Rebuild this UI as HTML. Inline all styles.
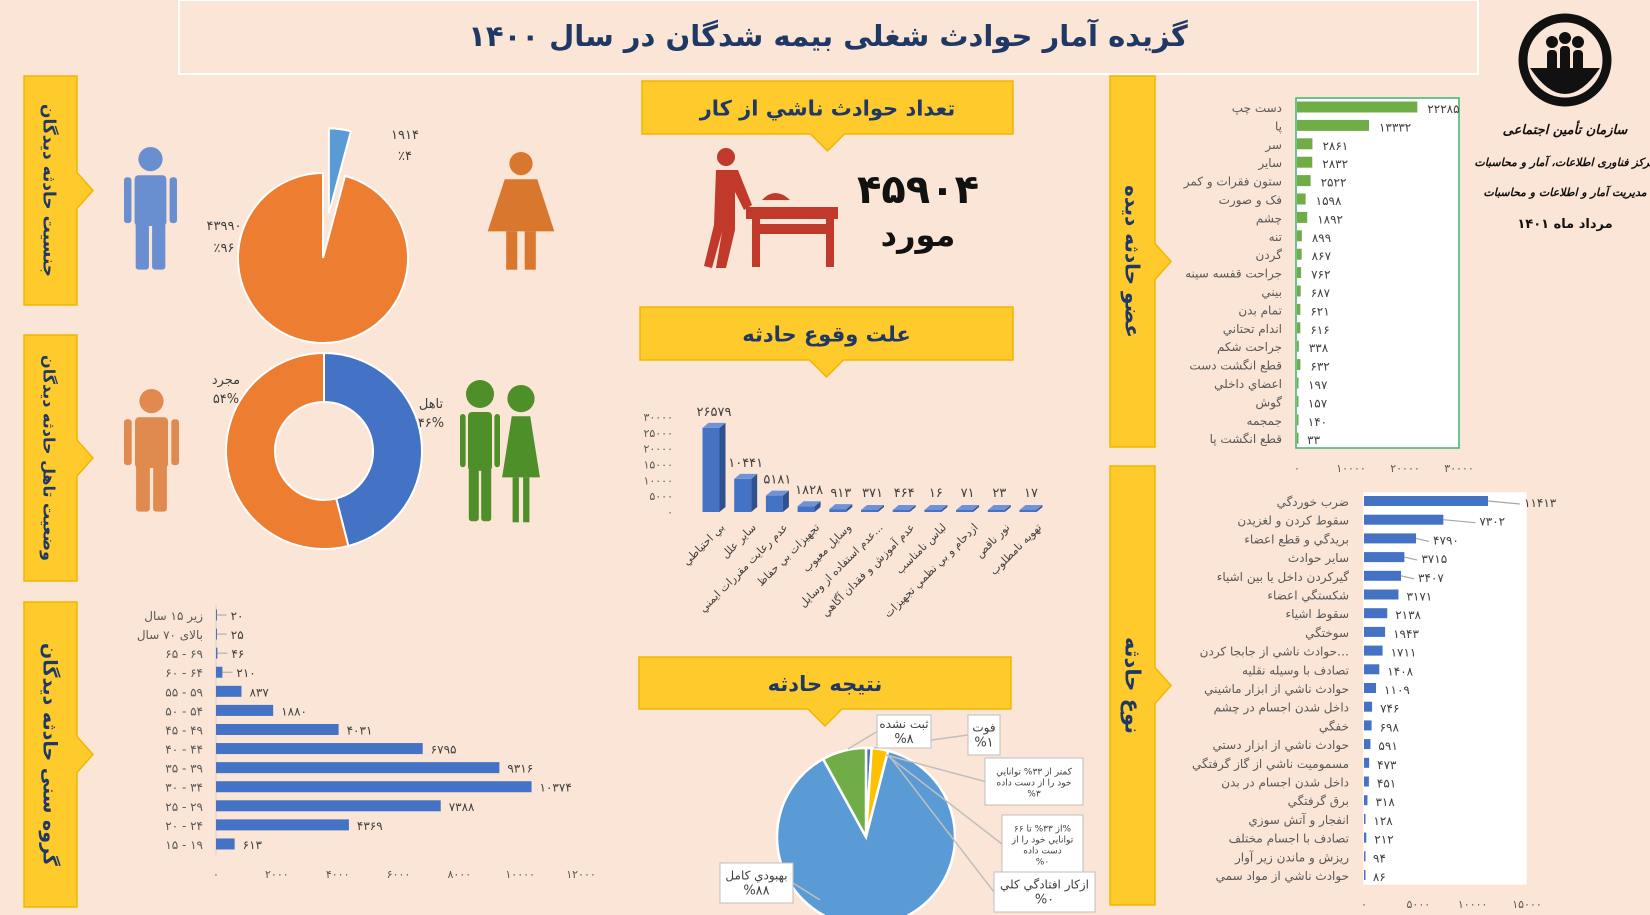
<!DOCTYPE html>
<html><head><meta charset="utf-8">
<style>
html,body{margin:0;padding:0;background:#fbe5d6;}
svg{display:block;font-family:"DejaVu Sans","Liberation Sans",sans-serif;}
</style></head>
<body>
<svg id="root" width="1650" height="915" viewBox="0 0 1650 915" xmlns="http://www.w3.org/2000/svg">
<rect x="0" y="0" width="1650" height="915" fill="#fbe5d6"/>
<rect x="179" y="0" width="1299" height="74" fill="none" stroke="#ffffff" stroke-width="2"/>
<text x="828" y="46" text-anchor="middle" font-size="29" font-weight="bold" fill="#1f3864">گزیده آمار حوادث شغلی بیمه شدگان در سال ۱۴۰۰</text>

<g>
<circle cx="1565" cy="60" r="42" fill="none" stroke="#111" stroke-width="9"/>
<path d="M1530 68 Q1565 120 1600 68 Z" fill="#111"/>
<circle cx="1552" cy="42" r="6" fill="#111"/><circle cx="1565" cy="38" r="6" fill="#111"/><circle cx="1578" cy="42" r="6" fill="#111"/>
<rect x="1547" y="50" width="10" height="26" rx="4" fill="#111"/><rect x="1560" y="46" width="10" height="30" rx="4" fill="#111"/><rect x="1573" y="50" width="10" height="26" rx="4" fill="#111"/>
</g>
<text x="1565" y="134" text-anchor="middle" font-size="13" font-weight="bold" font-style="italic" fill="#111">سازمان تأمین اجتماعی</text>
<text x="1565" y="166" text-anchor="middle" font-size="11" font-weight="bold" font-style="italic" fill="#111">مرکز فناوری اطلاعات، آمار و محاسبات</text>
<text x="1565" y="196" text-anchor="middle" font-size="11" font-weight="bold" font-style="italic" fill="#111">مدیریت آمار و اطلاعات و محاسبات</text>
<text x="1565" y="228" text-anchor="middle" font-size="13" font-weight="bold" fill="#111">مرداد ماه ۱۴۰۱</text>

<g id="tabs"></g>
<g id="headers"></g>

<g fill="#c0392b">
<circle cx="726" cy="157" r="9"/>
<path d="M716 170 L738 170 L752 205 L744 210 L735 192 L735 230 L726 268 L716 268 L722 232 L712 268 L704 266 L714 225 Z"/>
<path d="M762 200 Q775 186 790 200 Z"/>
<rect x="746" y="207" width="92" height="12"/>
<rect x="752" y="219" width="8" height="48"/><rect x="826" y="219" width="8" height="48"/>
<rect x="760" y="224" width="66" height="10"/>
</g>
<text x="918" y="203" text-anchor="middle" font-size="40" font-weight="bold" fill="#111">۴۵۹۰۴</text>
<text x="918" y="246" text-anchor="middle" font-size="32" font-weight="bold" fill="#111">مورد</text>

<g id="gender"></g>
<g id="marital"></g>
<g id="age"></g>
<g id="cause"></g>
<g id="result"></g>
<g id="body"></g>
<g id="type"></g>
</svg>
<script>
const ageCats=['زیر ۱۵ سال','بالای ۷۰ سال','۶۵ - ۶۹','۶۰ - ۶۴','۵۵ - ۵۹','۵۰ - ۵۴','۴۵ - ۴۹','۴۰ - ۴۴','۳۵ - ۳۹','۳۰ - ۳۴','۲۵ - ۲۹','۲۰ - ۲۴','۱۵ - ۱۹'];
const ageVals=[20,25,46,210,837,1880,4031,6795,9316,10374,7388,4369,613];
const ageTicks=[0,2000,4000,6000,8000,10000,12000];

const causeCats=['بي احتياطي','ساير علل','عدم رعايت مقررات ايمني','تجهيزات بي حفاظ','وسايل معيوب','عدم استفاده از وسايل...','عدم آموزش و فقدان آگاهي','لباس نامناسب','ازدحام و بي نظمي تجهيزات','نور ناقص','تهويه نامطلوب'];
const causeVals=[26579,10441,5181,1828,913,371,464,16,71,23,17];
const causeTicks=[0,5000,10000,15000,20000,25000,30000];

const bodyCats=['دست چپ','پا','سر','ساير','ستون فقرات و کمر','فک و صورت','چشم','تنه','گردن','جراحت قفسه سينه','بيني','تمام بدن','اندام تحتاني','جراحت شکم','قطع انگشت دست','اعضاي داخلي','گوش','جمجمه','قطع انگشت پا'];
const bodyVals=[22285,13332,2861,2832,2522,1598,1892,899,867,762,687,621,616,338,632,197,157,140,33];
const bodyTicks=[0,10000,20000,30000];

const typeCats=['ضرب خوردگي','سقوط کردن و لغزيدن','بريدگي و قطع اعضاء','ساير حوادث','گيرکردن داخل يا بين اشياء','شکستگي اعضاء','سقوط اشياء','سوختگي','حوادث ناشي از جابجا کردن…','تصادف با وسيله نقليه','حوادث ناشي از ابزار ماشيني','داخل شدن اجسام در چشم','خفگي','حوادث ناشي از ابزار دستي','مسموميت ناشي از گاز گرفتگي','داخل شدن اجسام در بدن','برق گرفتگي','انفجار و آتش سوزي','تصادف با اجسام مختلف','ريزش و ماندن زير آوار','حوادث ناشي از مواد سمي'];
const typeVals=[11413,7302,4790,3715,3407,3171,2138,1943,1711,1408,1109,746,698,591,473,451,318,128,212,94,86];
const typeTicks=[0,5000,10000,15000];

const genderCats=['مرد','زن'];
const genderVals=[43990,1914];
const genderPct=[96,4];

const maritalCats=['تاهل','مجرد'];
const maritalPct=[46,54];

const resultCats=['فوت','کمتر از ۳۳% توانايي خود را از دست داده','از ۳۳% تا ۶۶% توانايي خود را از دست داده','ازکار افتادگي کلي','بهبودي کامل','ثبت نشده'];
const resultPct=[1,3,0,0,88,8];

const NS='http://www.w3.org/2000/svg';
function mk(tag,attrs,parent){const e=document.createElementNS(NS,tag);for(const k in attrs)e.setAttribute(k,attrs[k]);parent.appendChild(e);return e;}
function fa(n){return String(n).replace(/\d/g,d=>'۰۱۲۳۴۵۶۷۸۹'[d]);}
function txt(parent,x,y,s,size,fill,anchor){const t=mk('text',{x:x,y:y,'font-size':size,fill:fill,'text-anchor':anchor||'middle'},parent);t.textContent=s;return t;}

const tabs=document.getElementById('tabs');
const tabDefs=[[24,76,53,229,'جنسیت حادثه دیدگان','tab-gender',17],[24,335,53,246,'وضعیت تاهل حادثه دیدگان','tab-marital',16],[24,602,53,305,'گروه سنی حادثه دیدگان','tab-age',19],[1110,76,45,371,'عضو حادثه دیده','tab-body-part',20],[1110,466,45,439,'نوع حادثه','tab-accident-type',21]];
tabDefs.forEach(d=>{
  const g=mk('g',{},tabs);
  
  
  const cy=d[1]+d[3]/2, rx=d[0]+d[2];
  mk('path',{d:`M${d[0]} ${d[1]} H${rx} V${cy-18} L${rx+16} ${cy} L${rx} ${cy+18} V${d[1]+d[3]} H${d[0]} Z`,fill:'#ffca2c',stroke:'#f2b600','stroke-width':1.5},g);
  const t=txt(g,0,0,d[4],d[6],'#1f3864');
  t.setAttribute('font-weight','bold');
  t.setAttribute('transform',`translate(${d[0]+d[2]/2-7},${cy}) rotate(90)`);
});

const hd=document.getElementById('headers');
[[642,81,371,53,'تعداد حوادث ناشي از کار','header-accident-count'],[640,307,373,53,'علت وقوع حادثه','header-accident-cause'],[639,657,372,52,'نتيجه حادثه','header-accident-result']].forEach(d=>{
  const g=mk('g',{},hd);
  
  
  const cx=d[0]+d[2]/2, by=d[1]+d[3];
  mk('path',{d:`M${d[0]} ${d[1]} H${d[0]+d[2]} V${by} H${cx+17} L${cx} ${by+17} L${cx-17} ${by} H${d[0]} Z`,fill:'#ffca2c',stroke:'#f2b600','stroke-width':1.5},g);
  const t=txt(g,cx,d[1]+d[3]/2+8,d[4],21,'#1f3864');
  t.setAttribute('font-weight','bold');
});

function person(parent,x,top,w,h,color,dress,name){
  const g=mk('g',{fill:color},parent);
  
  
  const cx=x+w/2, hr=h*0.1;
  mk('circle',{cx:cx,cy:top+hr,r:hr},g);
  const bt=top+hr*2+4;
  if(dress){
    mk('path',{d:`M${cx-w*0.22} ${bt} H${cx+w*0.22} L${cx+w*0.45} ${bt+h*0.45} H${cx-w*0.45} Z`},g);
    mk('rect',{x:cx-w*0.2,y:bt+h*0.45,width:w*0.15,height:h*0.33},g);
    mk('rect',{x:cx+w*0.05,y:bt+h*0.45,width:w*0.15,height:h*0.33},g);
  }else{
    mk('rect',{x:cx-w*0.3,y:bt,width:w*0.6,height:h*0.42,rx:4},g);
    mk('rect',{x:x,y:bt+2,width:w*0.14,height:h*0.38,rx:3},g);
    mk('rect',{x:x+w*0.86,y:bt+2,width:w*0.14,height:h*0.38,rx:3},g);
    mk('rect',{x:cx-w*0.28,y:bt+h*0.38,width:w*0.25,height:h*0.4,rx:3},g);
    mk('rect',{x:cx+w*0.03,y:bt+h*0.38,width:w*0.25,height:h*0.4,rx:3},g);
  }
}
const gg=document.getElementById('gender');
person(gg,124,147,53,121,'#6a8fd0',false,'male-icon');
person(gg,484,152,74,116,'#d9772e',true,'female-icon');
const mg=document.getElementById('marital');
person(mg,124,389,55,121,'#e08a50',false,'single-icon');
person(mg,460,380,40,140,'#4e8f2a',false,'married-man-icon');
person(mg,500,385,42,136,'#4e8f2a',true,'married-woman-icon');

(function(){
  const cx=323,cy=258,r=85,tot=genderVals[0]+genderVals[1];
  const fa1=genderVals[1]/tot*2*Math.PI;
  let a0=fa1,a1=2*Math.PI;
  const p=(a,rr,ox,oy)=>[(ox||0)+cx+rr*Math.sin(a),(oy||0)+cy-rr*Math.cos(a)];
  let s=p(a0,r),e=p(a1,r);
  const m=mk('path',{d:`M${cx} ${cy} L${s[0]} ${s[1]} A${r} ${r} 0 1 1 ${e[0]} ${e[1]} Z`,fill:'#ed7d31',stroke:'#fff','stroke-width':2},gg);
  
  
  const mid=fa1/2,ox=45*Math.sin(mid),oy=-45*Math.cos(mid);
  s=p(0,r,ox,oy);e=p(fa1,r,ox,oy);
  const f=mk('path',{d:`M${cx+ox} ${cy+oy} L${s[0]} ${s[1]} A${r} ${r} 0 0 1 ${e[0]} ${e[1]} Z`,fill:'#5b9bd5',stroke:'#fff','stroke-width':2},gg);
  
  
  let t=txt(gg,405,139,fa(genderVals[1]),13,'#404040');
  
  t=txt(gg,405,160,'٪'+fa(genderPct[1]),13,'#404040');
  
  t=txt(gg,224,230,fa(genderVals[0]),13,'#404040');
  
  t=txt(gg,224,252,'٪'+fa(genderPct[0]),13,'#404040');
  
})();

(function(){
  const cx=324,cy=451,R=98,ri=49;
  let a=0;const cols=['#4472c4','#ed7d31'];
  const p=(ang,rr)=>[cx+rr*Math.sin(ang),cy-rr*Math.cos(ang)];
  maritalPct.forEach((v,i)=>{
    const b=a+v/100*2*Math.PI,large=(b-a)>Math.PI?1:0;
    const s1=p(a,R),e1=p(b,R),s2=p(b,ri),e2=p(a,ri);
    const path=mk('path',{d:`M${s1[0]} ${s1[1]} A${R} ${R} 0 ${large} 1 ${e1[0]} ${e1[1]} L${s2[0]} ${s2[1]} A${ri} ${ri} 0 ${large} 0 ${e2[0]} ${e2[1]} Z`,fill:cols[i],stroke:'#fff','stroke-width':2},mg);
    
    
    a=b;
  });
  let t=txt(mg,226,384,maritalCats[1],13,'#404040');
  
  t=txt(mg,226,403,fa(maritalPct[1])+'%',13,'#404040');
  
  t=txt(mg,431,408,maritalCats[0],13,'#404040');
  
  t=txt(mg,431,427,fa(maritalPct[0])+'%',13,'#404040');
  
})();

(function(){
  const g=document.getElementById('age');
  const x0=216,sx=(581-216)/12000,y0=615,step=19.08,bh=11;
  const X=v=>x0+v*sx, Y=i=>y0+i*step;
  const ax=mk('line',{x1:x0,y1:605,x2:x0,y2:855,stroke:'#d0d0d0','stroke-width':1},g);
  
  
  ageCats.forEach((c,i)=>{
    const l=txt(g,203,Y(i)+5,c,12,'#595959','end');
    
    
    const b=mk('rect',{x:x0,y:Y(i)-bh/2,width:Math.max(1,X(ageVals[i])-x0),height:bh,fill:'#4472c4'},g);
    
    
    let lx=X(ageVals[i])+8;
    if(ageVals[i]<300){const ln=mk('line',{x1:X(ageVals[i]),y1:Y(i),x2:X(ageVals[i])+10,y2:Y(i),stroke:'#a6a6a6'},g);lx+=6;}
    const v=txt(g,lx,Y(i)+5,fa(ageVals[i]),12,'#404040','start');
    
    
  });
  ageTicks.forEach(t=>{
    const l=txt(g,X(t),878,fa(t),11,'#595959');
    
    
  });
})();

(function(){
  const g=document.getElementById('cause');
  const base=512,sy=95/30000,cx0=711,step=31.7,w=17,dx=6,dy=5;
  const Y=v=>base-v*sy, X=i=>cx0+i*step;
  causeTicks.forEach(t=>{
    const l=txt(g,673,Y(t)+4,fa(t),11,'#595959','end');
    
    
  });
  causeCats.forEach((c,i)=>{
    const x=X(i)-w/2,top=Math.min(Y(causeVals[i]),base-2);
    const bg=mk('g',{},g);
    
    
    mk('rect',{x:x,y:top,width:w,height:base-top,fill:'#4472c4'},bg);
    mk('path',{d:`M${x+w} ${top} L${x+w+dx} ${top-dy} V${base-dy} L${x+w} ${base} Z`,fill:'#2f528f'},bg);
    mk('path',{d:`M${x} ${top} L${x+dx} ${top-dy} H${x+w+dx} L${x+w} ${top} Z`,fill:'#6f93d6'},bg);
    const v=txt(g,X(i)+3,Math.min(top-12,497),fa(causeVals[i]),13,'#404040');
    
    
    const l=txt(g,0,0,c,11,'#404040','end');
    l.setAttribute('transform',`translate(${X(i)+14},${528}) rotate(-45)`);
    
    
  });
})();

(function(){
  const g=document.getElementById('result');
  const cx=866,cy=837,r=89,cols=['#4472c4','#ffc000','#a5a5a5','#264478','#5b9bd5','#70ad47'];
  const p=(a,rr)=>[cx+rr*Math.sin(a),cy-rr*Math.cos(a)];
  let a=0;
  resultPct.forEach((v,i)=>{
    const b=a+v/100*2*Math.PI;
    if(v>0){
      const s=p(a,r),e=p(b,r),large=(b-a)>Math.PI?1:0;
      const sl=mk('path',{d:`M${cx} ${cy} L${s[0]} ${s[1]} A${r} ${r} 0 ${large} 1 ${e[0]} ${e[1]} Z`,fill:cols[i],stroke:'#fff','stroke-width':2.5},g);
      
      
    }
    a=b;
  });
  const boxes=[[968,715,32,40,[874,748]],[985,758,98,47,[886,755]],[1002,815,81,58,[888,756]],[994,872,101,40,[890,757]],[720,863,73,40,[820,900]],[877,715,54,33,[848,749]]];
  resultCats.forEach((c,i)=>{
    const bx=boxes[i];
    const ln=mk('line',{x1:bx[0]+(i===4?bx[2]:0),y1:bx[1]+bx[3]/2,x2:bx[4][0],y2:bx[4][1],stroke:'#bfbfbf','stroke-width':1.5},g);
    
    
    const rc=mk('rect',{x:bx[0],y:bx[1],width:bx[2],height:bx[3],fill:'#fff',stroke:'#bfbfbf'},g);
    
    
    const small=(i===1||i===2);
    const fs=small?9:12;
    let lines=[c];
    if(i===1)lines=['کمتر از ۳۳% توانايي','خود را از دست داده'];
    if(i===2)lines=['از ۳۳% تا ۶۶%','توانايي خود را از','دست داده'];
    lines.push('%'+fa(resultPct[i]));
    const lh=small?11:15;
    const y0=bx[1]+bx[3]/2-(lines.length-1)*lh/2+4;
    lines.forEach((s,k)=>{
      const t=txt(g,bx[0]+bx[2]/2,y0+k*lh,s,(k===lines.length-1&&!small)?13:fs,'#404040');
      
      
    });
  });
})();

function hbar(gid,cats,vals,ticks,o){
  const g=document.getElementById(gid);
  const frame=mk('rect',{x:o.fx,y:o.fy,width:o.fw,height:o.fh,fill:'#fff',stroke:o.stroke,'stroke-width':1.5},g);
  
  
  const X=v=>o.x0+v*o.sx, Y=i=>o.y0+i*o.step;
  cats.forEach((c,i)=>{
    const l=txt(g,o.lx,Y(i)+5,c,12,'#595959','end');
    
    
    const b=mk('rect',{x:o.x0,y:Y(i)-o.bh/2,width:Math.max(1.5,X(vals[i])-o.x0),height:o.bh,fill:o.color},g);
    
    
    const gap=o.gap(vals[i]);
    if(gap>12){const ln=mk('line',{x1:X(vals[i]),y1:Y(i),x2:X(vals[i])+gap-4,y2:Y(i)+3,stroke:'#a6a6a6','stroke-width':1.2},g);}
    const v=txt(g,X(vals[i])+gap,Y(i)+6,fa(vals[i]),12,'#404040','start');
    
    
  });
  ticks.forEach(t=>{
    const l=txt(g,X(t),o.ty,fa(t),11,'#595959');
    
    
  });
}
hbar('body',bodyCats,bodyVals,bodyTicks,{name:'body-part',fx:1296,fy:98,fw:163,fh:350,stroke:'#3cb371',x0:1297,sx:(1459-1297)/30000,y0:107,step:18.4,bh:11,lx:1282,ty:472,color:'#70ad47',gap:v=>10});
hbar('type',typeCats,typeVals,typeTicks,{name:'accident-type',fx:1364,fy:493,fw:162,fh:391,stroke:'#ffffff',x0:1364,sx:(1527-1364)/15000,y0:501,step:18.7,bh:10,lx:1349,ty:908,color:'#4472c4',gap:v=>v>6000?36:(v>3300?17:8)});
</script>
</body></html>
